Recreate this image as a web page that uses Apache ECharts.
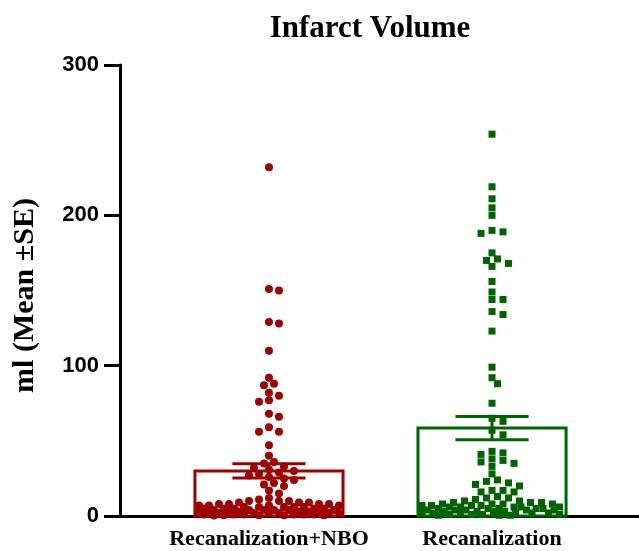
<!DOCTYPE html>
<html>
<head>
<meta charset="utf-8">
<script src="https://cdn.jsdelivr.net/npm/echarts@6/dist/echarts.min.js"></script>
<style>html,body{margin:0;padding:0;background:#fff}#c{width:639px;height:551px}</style>
</head>
<body>
<div id="c"></div>
<script>
// ---- data ----
const categories = ['Recanalization+NBO', 'Recanalization'];
const yTicks = [0, 100, 200, 300];
const means = [30, 58.5];
const ses = [4.7, 7.7];
const nboValues = [
  232, 151, 150, 129, 128, 110, 92, 88, 87, 82, 80, 77, 76, 68, 66, 59, 56, 56,
  47, 40, 36, 35, 33, 32, 31, 30, 29, 28, 27, 26, 25, 24, 22, 21, 20, 17, 15, 12,
  11, 10, 10, 10, 9, 9, 9, 8, 8, 8, 8, 7, 7, 7, 7, 6, 6, 6, 6, 6, 5, 5, 5, 5, 5,
  4, 4, 4, 4, 4, 4, 3, 3, 3, 3, 3, 3, 2, 2, 2, 2, 2, 2, 2, 1, 1, 1, 1, 1, 1,
  0.5, 0.5, 0.5, 0.5, 0.3
];
const recanValues = [
  254, 219, 211, 205, 200, 190, 189, 188, 175, 171, 170, 168, 166, 156, 149, 144, 144,
  136, 134, 123, 99, 92, 88, 75, 65, 63, 57, 54,
  43, 42, 41, 38, 37, 36, 35, 33, 28, 24, 23, 22, 21, 20, 17, 17, 16, 16, 13, 12, 12, 11,
  10, 10, 9, 9, 9, 8, 8, 8, 8, 7, 7, 7, 7, 6, 6, 6, 6, 6, 5, 5, 5, 5, 5,
  4, 4, 4, 4, 4, 3, 3, 3, 3, 3, 2, 2, 2, 2, 2, 1, 1, 1, 1, 0.5, 0.5, 0.5
];

// ---- styles / layout ----
const colors = ['#a00000', '#006400'];
const BOX_HALF = 0.332, CAP_HALF = 0.164;
const X_MIN = 0.332, X_MAX = 2.659;
const serif = '"Liberation Serif","Times New Roman",serif';
const sans = '"Liberation Sans",Arial,sans-serif';

const chart = echarts.init(document.getElementById('c'), null, {renderer: 'canvas'});

function boxRender(params, api) {
  const i = params.dataIndex;
  const x = api.value(0), m = api.value(1);
  const col = colors[i];
  const p0 = api.coord([x - BOX_HALF, 0]);
  const p1 = api.coord([x + BOX_HALF, m]);
  return {
    type: 'rect',
    shape: {x: p0[0], y: p1[1], width: p1[0] - p0[0], height: p0[1] - p1[1]},
    style: {fill: 'rgba(0,0,0,0)', stroke: col, lineWidth: 3}
  };
}
function errRender(params, api) {
  const i = params.dataIndex;
  const x = api.value(0), m = api.value(1), se = api.value(2);
  const col = colors[i];
  const top = api.coord([x, m + se]);
  const bot = api.coord([x, m - se]);
  const cl = api.coord([x - CAP_HALF, m])[0];
  const cr = api.coord([x + CAP_HALF, m])[0];
  const st = {stroke: col, lineWidth: 3};
  return {
    type: 'group',
    children: [
      {type: 'line', shape: {x1: top[0], y1: top[1], x2: bot[0], y2: bot[1]}, style: st},
      {type: 'line', shape: {x1: cl, y1: top[1], x2: cr, y2: top[1]}, style: st},
      {type: 'line', shape: {x1: cl, y1: bot[1], x2: cr, y2: bot[1]}, style: st}
    ]
  };
}

const summary = categories.map((c, i) => [i + 1, means[i], ses[i]]);

const option = {
  animation: false,
  backgroundColor: '#fff',
  title: {
    text: 'Infarct Volume',
    left: 365, top: 8, textAlign: 'center',
    textStyle: {fontFamily: serif, fontWeight: 'bold', fontSize: 31, color: '#000'}
  },
  grid: {left: 120, right: 0, top: 65, bottom: 35, containLabel: false},
  xAxis: {
    type: 'value', min: X_MIN, max: X_MAX,
    axisLine: {show: true, onZero: false, lineStyle: {color: '#000', width: 3}},
    axisTick: {show: false},
    splitLine: {show: false},
    axisLabel: {
      customValues: [1, 2],
      formatter: v => categories[Math.round(v) - 1] || '',
      margin: 12,
      fontFamily: serif, fontWeight: 'bold', fontSize: 22, color: '#000'
    }
  },
  yAxis: {
    type: 'value', min: 0, max: 300, interval: 100,
    name: 'ml (Mean ±SE)',
    nameLocation: 'middle', nameGap: 80,
    nameTextStyle: {fontFamily: serif, fontWeight: 'bold', fontSize: 30, color: '#000', padding: [0, 10, 0, 0]},
    axisLine: {show: true, lineStyle: {color: '#000', width: 3}},
    axisTick: {show: true, length: 16, lineStyle: {color: '#000', width: 3}},
    splitLine: {show: false},
    axisLabel: {
      customValues: yTicks,
      margin: 21,
      fontFamily: sans, fontWeight: 'bold', fontSize: 22, color: '#000'
    }
  },
  series: [
    {type: 'custom', name: 'box', renderItem: boxRender, data: summary, z: 1, silent: true},
    {type: 'scatter', name: categories[0], symbol: 'circle', symbolSize: 8,
     itemStyle: {color: colors[0], opacity: 1}, data: [], z: 2},
    {type: 'scatter', name: categories[1], symbol: 'rect', symbolSize: 7,
     itemStyle: {color: colors[1], opacity: 1}, data: [], z: 2},
    {type: 'custom', name: 'err', renderItem: errRender, data: summary, z: 3, silent: true}
  ]
};
chart.setOption(option);

// beeswarm layout in pixel space using the chart's own scales
function swarm(values, center, minDist, step, maxOff) {
  const cpx = chart.convertToPixel({gridIndex: 0}, [center, 0])[0];
  const pts = values.map(v => ({v, y: chart.convertToPixel({gridIndex: 0}, [center, v])[1]}));
  pts.sort((a, b) => b.v - a.v);
  const placed = [];
  const out = [];
  pts.forEach(p => {
    let chosen = null;
    for (let k = 0; k < 60; k++) {
      const off = (k === 0) ? 0 : (k % 2 ? 1 : -1) * Math.ceil(k / 2) * step;
      if (Math.abs(off) > maxOff) break;
      const x = cpx + off;
      let ok = true;
      for (const q of placed) {
        const dx = q.x - x, dy = q.y - p.y;
        if (dx * dx + dy * dy < minDist * minDist) { ok = false; break; }
      }
      if (ok) { chosen = x; break; }
    }
    if (chosen === null) {
      let best = cpx, bestD = -1;
      for (let off = -maxOff; off <= maxOff; off += step) {
        const x = cpx + off;
        let d = Infinity;
        for (const q of placed) {
          const dx = q.x - x, dy = q.y - p.y;
          d = Math.min(d, dx * dx + dy * dy);
        }
        if (d > bestD) { bestD = d; best = x; }
      }
      chosen = best;
    }
    placed.push({x: chosen, y: p.y});
    const xv = chart.convertFromPixel({gridIndex: 0}, [chosen, p.y])[0];
    out.push([xv, p.v]);
  });
  return out;
}

const redPts = swarm(nboValues, 1, 7.5, 5, 70);
const greenPts = swarm(recanValues, 2, 7.5, 5.5, 70);
chart.setOption({series: [{}, {data: redPts}, {data: greenPts}, {}]});
</script>
</body>
</html>
